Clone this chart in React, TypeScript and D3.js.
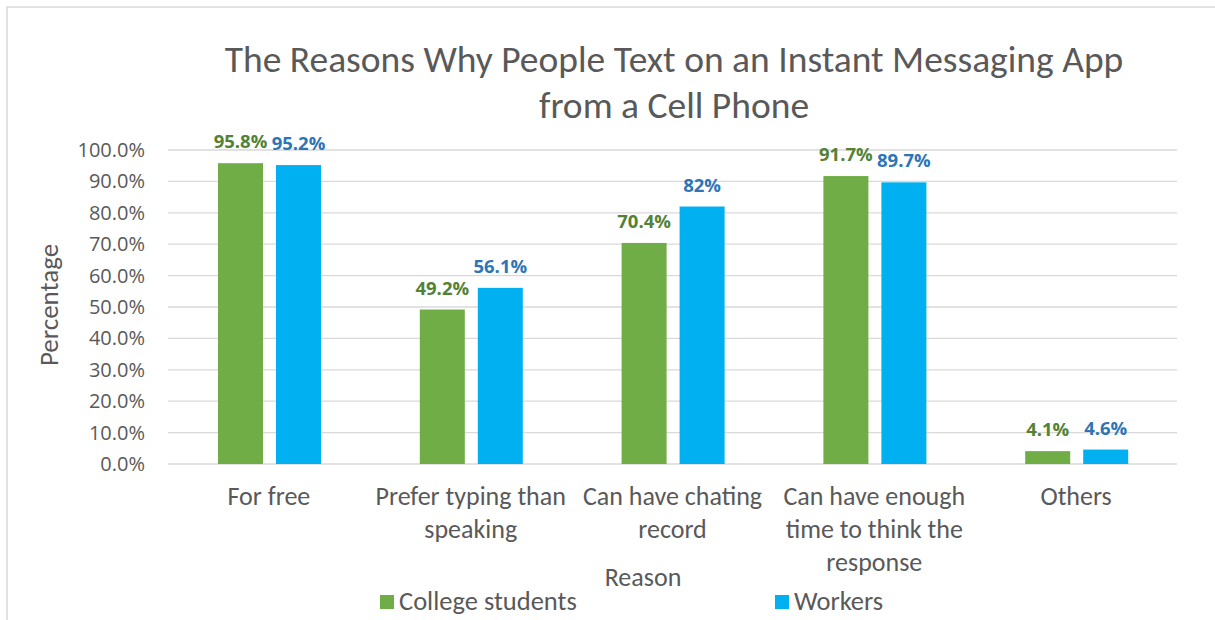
import React from "react";
import * as d3 from "d3";

const categories: string[][] = [
  ["For free"],
  ["Prefer typing than", "speaking"],
  ["Can have chating", "record"],
  ["Can have enough", "time to think the", "response"],
  ["Others"],
];
const seriesNames = ["College students", "Workers"];
const collegeValues = [95.8, 49.2, 70.4, 91.7, 4.1];
const workerValues = [95.2, 56.1, 82, 89.7, 4.6];
const collegeLabels = ["95.8%", "49.2%", "70.4%", "91.7%", "4.1%"];
const workerLabels = ["95.2%", "56.1%", "82%", "89.7%", "4.6%"];
const yTicks = [0, 10, 20, 30, 40, 50, 60, 70, 80, 90, 100];

const W = 1215;
const H = 620;
const FONT = "Carlito, Calibri, 'Open Sans', Lato, sans-serif";
const FONT2 = "'Open Sans', 'Segoe UI', sans-serif";
const barColors = ["#70AD47", "#00B0F0"];
const labelColors = ["#548235", "#2E75B6"];

export default function App() {
  const x0 = d3
    .scaleBand<number>()
    .domain(categories.map((_, i) => i))
    .range([168, 1177]);
  const x1 = d3.scaleBand<number>().domain([0, 1]).range([50, 153]).paddingInner(0.224);
  const y = d3.scaleLinear().domain([0, 100]).range([464, 150]);
  const series = [collegeValues, workerValues];
  const labels = [collegeLabels, workerLabels];

  return (
    <svg
      width={W}
      height={H}
      style={{ position: "absolute", left: 0, top: 0, background: "#fff" }}
      fontFamily={FONT}
    >
      <path d={`M7,${H} V7 H${W}`} fill="none" stroke="#d9d9d9" strokeWidth={1.5} />
      <text x={674} y={72} textAnchor="middle" fontSize={37.5} fill="#595959">
        The Reasons Why People Text on an Instant Messaging App
      </text>
      <text x={674} y={118} textAnchor="middle" fontSize={37.5} fill="#595959">
        from a Cell Phone
      </text>
      {yTicks.map((t) => (
        <g key={t}>
          <line x1={168} x2={1177} y1={y(t)} y2={y(t)} stroke="#d9d9d9" strokeWidth={1.3} />
          <text
            x={145}
            y={y(t) + 7}
            textAnchor="end"
            fontSize={20}
            fill="#595959"
            fontFamily={FONT2}
          >
            {t.toFixed(1) + "%"}
          </text>
        </g>
      ))}
      {series.map((vals, s) =>
        vals.map((v, i) => {
          const bx = (x0(i) as number) + (x1(s) as number);
          return (
            <g key={`${s}-${i}`}>
              <rect
                x={bx}
                y={y(v)}
                width={x1.bandwidth()}
                height={y(0) - y(v)}
                fill={barColors[s]}
              />
              <text
                x={bx + x1.bandwidth() / 2}
                y={y(v) - 15}
                textAnchor="middle"
                fontSize={18.5}
                fontWeight="bold"
                fill={labelColors[s]}
                fontFamily={FONT2}
              >
                {labels[s][i]}
              </text>
            </g>
          );
        })
      )}
      {categories.map((lines, i) => (
        <text
          key={i}
          x={(x0(i) as number) + x0.bandwidth() / 2}
          textAnchor="middle"
          fontSize={26}
          fill="#595959"
        >
          {lines.map((l, j) => (
            <tspan key={j} x={(x0(i) as number) + x0.bandwidth() / 2} y={505 + j * 33}>
              {l}
            </tspan>
          ))}
        </text>
      ))}
      <text
        transform="translate(58,305) rotate(-90)"
        textAnchor="middle"
        fontSize={27}
        fill="#595959"
      >
        Percentage
      </text>
      <text x={643} y={586} textAnchor="middle" fontSize={26} fill="#595959">
        Reason
      </text>
      {seriesNames.map((n, s) => {
        const lx = [380, 775][s];
        return (
          <g key={n}>
            <rect x={lx} y={595} width={14} height={14} fill={barColors[s]} />
            <text x={lx + 19} y={610} fontSize={26.5} fill="#595959">
              {n}
            </text>
          </g>
        );
      })}
    </svg>
  );
}
